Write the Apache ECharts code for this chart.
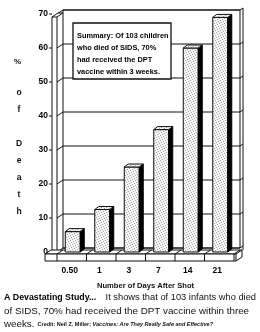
<!DOCTYPE html>
<html>
<head>
<meta charset="utf-8">
<script src="https://cdn.jsdelivr.net/npm/echarts@6/dist/echarts.min.js"></script>
<style>
  html, body { margin: 0; padding: 0; background: #fff; }
  #chart { width: 260px; height: 332px; }
</style>
</head>
<body>
<div id="chart"></div>
<script>
// data
const days = ['0.50', '1', '3', '7', '14', '21'];
const deathPct = [6, 12.5, 25, 36, 60, 69];
const yMin = 0;
const yMax = 70;
const yStep = 10;
const summaryLines = [
  'Summary: Of 103 children',
  'who died of SIDS, 70%',
  'had received the DPT',
  'vaccine within 3 weeks.'
];

const FONT = '"Liberation Sans", Arial, Helvetica, sans-serif';
const DX = 6, DY = -4; // depth of the back wall

// stippled grey fill like the print
function stipple() {
  const c = document.createElement('canvas');
  c.width = 5; c.height = 5;
  const g = c.getContext('2d');
  g.fillStyle = '#f5f5f5';
  g.fillRect(0, 0, 5, 5);
  g.fillStyle = '#a5a5a5';
  [[0, 0], [3, 1], [1, 2], [4, 3], [2, 4]].forEach(p => g.fillRect(p[0], p[1], 1, 1));
  return { image: c, repeat: 'repeat' };
}
const dots = stipple();

function line(pts, w) {
  return { type: 'polyline', shape: { points: pts }, style: { stroke: '#111', lineWidth: w || 1, fill: null } };
}

function renderFrame(params, api) {
  const band = api.size([1, 0])[0];
  const x0 = api.coord([0, 0])[0] - band / 2;
  const x1 = api.coord([days.length - 1, 0])[0] + band / 2;
  const y0 = api.coord([0, yMin])[1];
  const yT = api.coord([0, yMax])[1];
  const kids = [];
  // back wall
  kids.push({ type: 'rect', shape: { x: x0 + DX, y: yT + DY, width: x1 - x0, height: y0 - yT },
    style: { fill: '#fff', stroke: '#111', lineWidth: 1 } });
  for (let v = yMin; v <= yMax; v += yStep) {
    const y = api.coord([0, v])[1];
    kids.push(line([[x0, y], [x0 + DX, y + DY], [x1 + DX, y + DY]]));
    kids.push(line([[x0 - 8, y], [x0 - 5, y]]));
    kids.push(line([[x1 + DX, y + DY], [x1 + DX + 3, y + DY - 2]]));
  }
  // left wall
  kids.push({ type: 'polygon', shape: { points: [[x0 - 5, yT + 3], [x0 - 5 + DX, yT + 3 + DY], [x0 + DX, yT + 3 + DY], [x0, yT + 3]] },
    style: { fill: '#fff', stroke: '#111', lineWidth: 1 } });
  kids.push(line([[x0 - 5, yT + 3], [x0 - 5, y0 + 3]]));
  kids.push(line([[x0, yT + 3], [x0, y0 + 3]]));
  kids.push(line([[x1 + DX + 3, yT + DY - 2], [x1 + DX + 3, y0 + DY + 2]]));
  // floor
  const fl = x0 - 12, fr = x1 + 2;
  kids.push({ type: 'polygon', shape: { points: [[fl, y0 + 2], [fr, y0 + 2], [fr + DX, y0 - 2], [fl + DX, y0 - 2]] },
    style: { fill: '#fff', stroke: '#111', lineWidth: 1 } });
  kids.push({ type: 'rect', shape: { x: fl, y: y0 + 2, width: fr - fl, height: 7 },
    style: { fill: '#fff', stroke: '#111', lineWidth: 1 } });
  kids.push(line([[fr, y0 + 9], [fr + DX, y0 + 5], [fr + DX, y0 - 2]]));
  for (let i = 0; i <= days.length; i++) {
    const xb = x0 + i * band;
    kids.push(line([[xb, y0 + 2], [xb + DX, y0 - 2]]));
    kids.push(line([[xb, y0 + 2], [xb, y0 + 9]]));
  }
  return { type: 'group', children: kids };
}

function renderBar(params, api) {
  const i = api.value(0);
  const top = api.coord([i, api.value(1)]);
  const base = api.coord([i, 0]);
  const w = 15, s = 4, d = 3;
  const l = top[0] - w / 2 + 1, r = l + w;
  const t = top[1], b = base[1];
  return {
    type: 'group',
    children: [
      { type: 'rect', shape: { x: l, y: t, width: w, height: b - t },
        style: { fill: dots, stroke: '#111', lineWidth: 1 } },
      { type: 'polygon', shape: { points: [[r, t], [r + s, t - d], [r + s, b - d], [r, b]] },
        style: { fill: '#000', stroke: '#000', lineWidth: 1 } },
      { type: 'polygon', shape: { points: [[l, t], [r, t], [r + s, t - d], [l + s, t - d]] },
        style: { fill: dots, stroke: '#111', lineWidth: 1 } }
    ]
  };
}

const chart = echarts.init(document.getElementById('chart'), null, { renderer: 'canvas' });
chart.setOption({
  animation: false,
  backgroundColor: '#fff',
  grid: { left: 57, right: 26, top: 14, bottom: 80 },
  xAxis: {
    type: 'category',
    data: days,
    axisLine: { show: false },
    axisTick: { show: false },
    axisLabel: { color: '#000', fontFamily: FONT, fontWeight: 'bold', fontSize: 8.5, margin: 14, padding: [0, 4, 0, 0] }
  },
  yAxis: {
    type: 'value',
    min: yMin,
    max: yMax,
    interval: yStep,
    axisLine: { show: false },
    axisTick: { show: false },
    splitLine: { show: false },
    axisLabel: { color: '#000', fontFamily: FONT, fontWeight: 'bold', fontSize: 8.5, margin: 9 }
  },
  series: [
    { type: 'custom', name: 'frame', data: [[0, 0]], renderItem: renderFrame, silent: true, z: 1 },
    { type: 'custom', name: '% of Death', data: days.map((d, i) => [i, deathPct[i]]),
      encode: { x: 0, y: 1 }, renderItem: renderBar, z: 3 }
  ],
  graphic: [
    // summary box
    { type: 'rect', z: 100, shape: { x: 73, y: 23, width: 98, height: 56 },
      style: { fill: '#fff', stroke: '#111', lineWidth: 1.3 } },
    { type: 'text', z: 101, x: 77, y: 30,
      style: { text: summaryLines.join('\n'), fill: '#000', font: 'bold 7.4px ' + FONT, lineHeight: 12 } },
    // vertical axis title
    { type: 'text', z: 100, x: 14, y: 58, style: { text: '%', fill: '#111', font: 'bold 8px ' + FONT } },
    { type: 'text', z: 100, x: 19, y: 84,
      style: { text: 'o\nf\n\nD\ne\na\nt\nh', fill: '#111', font: 'bold 8.5px ' + FONT, lineHeight: 17, align: 'center' } },
    { type: 'text', z: 100, x: 97, y: 282, style: { text: 'Number of Days After Shot', fill: '#111', font: 'bold 7.6px ' + FONT } },
    // caption
    { type: 'text', z: 100, x: 4, y: 293, style: { text: 'A Devastating Study...', fill: '#000', font: 'bold 8.8px ' + FONT } },
    { type: 'text', z: 100, x: 256, y: 293, style: { text: 'It shows that of 103 infants who died', fill: '#111', font: '9.3px ' + FONT, align: 'right' } },
    { type: 'text', z: 100, x: 4, y: 306, style: { text: 'of SIDS, 70% had received the DPT vaccine within three', fill: '#111', font: '9.8px ' + FONT } },
    { type: 'text', z: 100, x: 4, y: 319, style: {
      text: '{n|weeks.}{c|  Credit: Neil Z. Miller; }{ci|Vaccines: Are They Really Safe and Effective?}',
      fill: '#111',
      rich: {
        n: { font: '9.8px ' + FONT, fill: '#111' },
        c: { font: 'bold 5.5px ' + FONT, fill: '#111' },
        ci: { font: 'italic bold 5.5px ' + FONT, fill: '#111' }
      }
    } }
  ]
});
</script>
</body>
</html>
